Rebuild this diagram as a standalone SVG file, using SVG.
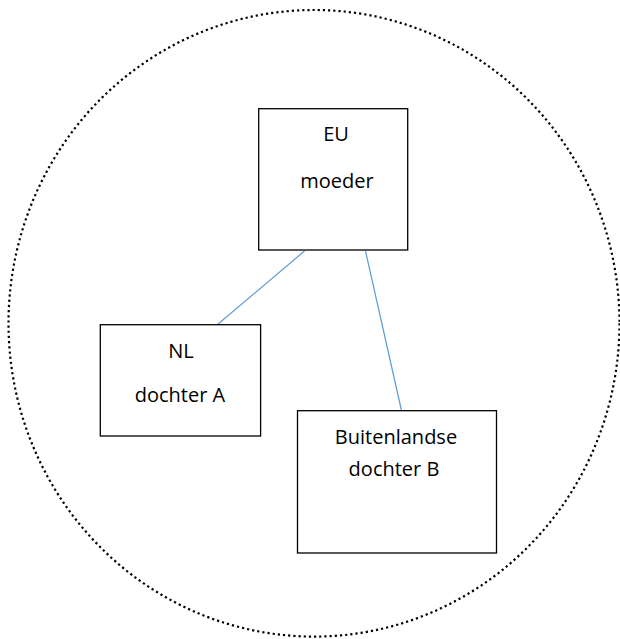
<svg xmlns="http://www.w3.org/2000/svg" width="620" height="639" viewBox="0 0 620 639">
<style>
.box{fill:#fff;stroke:#000;stroke-width:1.3}
.t{font-family:"Open Sans","Liberation Sans",sans-serif;font-size:20px;fill:#000;text-anchor:middle}
.c{stroke:#5b9bd5;stroke-width:1.2;fill:none}
</style>
<rect width="620" height="639" fill="#fff"/>
<ellipse id="boundary" cx="314" cy="323.3" rx="305.5" ry="313.3" fill="none" stroke="#000" stroke-width="2.2" stroke-dasharray="2.2 3"/>
<g id="connectors">
<line class="c" x1="304.5" y1="251" x2="217.5" y2="324.5"/>
<line class="c" x1="365.5" y1="251" x2="401.5" y2="410.5"/>
</g>
<g id="eu">
<rect class="box" x="258.7" y="108.7" width="149" height="141.3"/>
<text class="t" x="336" y="141">EU</text>
<text class="t" x="337" y="188">moeder</text>
</g>
<g id="nl">
<rect class="box" x="100.3" y="324.7" width="160.3" height="111.3"/>
<text class="t" x="181" y="358">NL</text>
<text class="t" x="180" y="401.5">dochter A</text>
</g>
<g id="b">
<rect class="box" x="297.5" y="410.7" width="199" height="142.3"/>
<text class="t" x="396" y="444">Buitenlandse</text>
<text class="t" x="394" y="476">dochter B</text>
</g>
</svg>
